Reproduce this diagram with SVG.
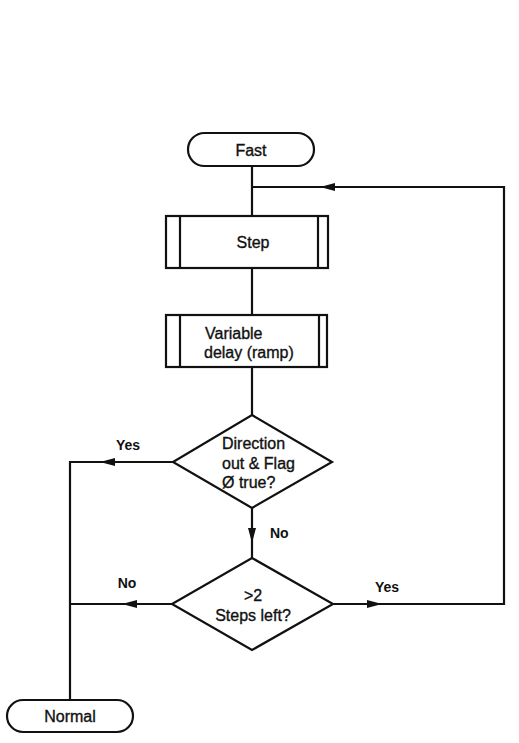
<svg xmlns="http://www.w3.org/2000/svg" width="519" height="743" viewBox="0 0 519 743">
<style>
.s{fill:#fff;stroke:#111;stroke-width:2.2}
.c{fill:none;stroke:#111;stroke-width:2.2}
text{font-family:"Liberation Sans",Arial,sans-serif;font-size:16px;fill:#111;stroke:#111;stroke-width:0.35}
.m{text-anchor:middle}
.b{font-weight:bold;font-size:14px;stroke-width:0}
</style>
<defs>
<marker id="a" markerUnits="userSpaceOnUse" markerWidth="16" markerHeight="9" refX="15" refY="4.5" orient="auto">
<path d="M0,0.5 L15,4.5 L0,8.5 z" fill="#111"/>
</marker>
</defs>
<rect width="519" height="743" fill="#fff"/>
<g id="connectors">
<path class="c" d="M252,166 V216"/>
<path class="c" d="M252,268 V315"/>
<path class="c" d="M252,367 V415"/>
<path class="c" d="M173,462 H100" marker-end="url(#a)"/>
<path class="c" d="M100,462 H70 V700"/>
<path class="c" d="M252,508 V543" marker-end="url(#a)"/>
<path class="c" d="M252,543 V558"/>
<path class="c" d="M172,604 H122" marker-end="url(#a)"/>
<path class="c" d="M122,604 H70"/>
<path class="c" d="M333,604 H382" marker-end="url(#a)"/>
<path class="c" d="M382,604 H504 V187 H320" marker-end="url(#a)"/>
<path class="c" d="M320,187 H252"/>
</g>
<g id="fast">
<rect class="s" x="188" y="133" width="126" height="33" rx="16.5"/>
<text class="m" x="251" y="156">Fast</text>
</g>
<g id="step">
<rect class="s" x="166" y="216" width="162" height="52"/>
<path class="c" d="M180,216 V268 M318,216 V268"/>
<text class="m" x="253" y="248">Step</text>
</g>
<g id="delay">
<rect class="s" x="166" y="315" width="161" height="52"/>
<path class="c" d="M180,315 V367 M319,315 V367"/>
<text x="205" y="339">Variable</text>
<text x="204" y="358">delay (ramp)</text>
</g>
<g id="decision1">
<path class="s" d="M252,415 L332,462 L252,508 L173,462 Z"/>
<text x="222" y="449">Direction</text>
<text x="222" y="469">out &amp; Flag</text>
<text x="222" y="488">Ø true?</text>
</g>
<g id="decision2">
<path class="s" d="M252,558 L333,604 L252,650 L172,604 Z"/>
<text class="m" x="253" y="601">&gt;2</text>
<text class="m" x="253" y="621">Steps left?</text>
</g>
<g id="normal">
<rect class="s" x="7" y="700" width="126" height="32" rx="16"/>
<text class="m" x="70" y="722">Normal</text>
</g>
<g id="labels">
<text class="m b" x="128" y="450">Yes</text>
<text class="b" x="270" y="538">No</text>
<text class="m b" x="127" y="588">No</text>
<text class="m b" x="387" y="592">Yes</text>
</g>
</svg>
